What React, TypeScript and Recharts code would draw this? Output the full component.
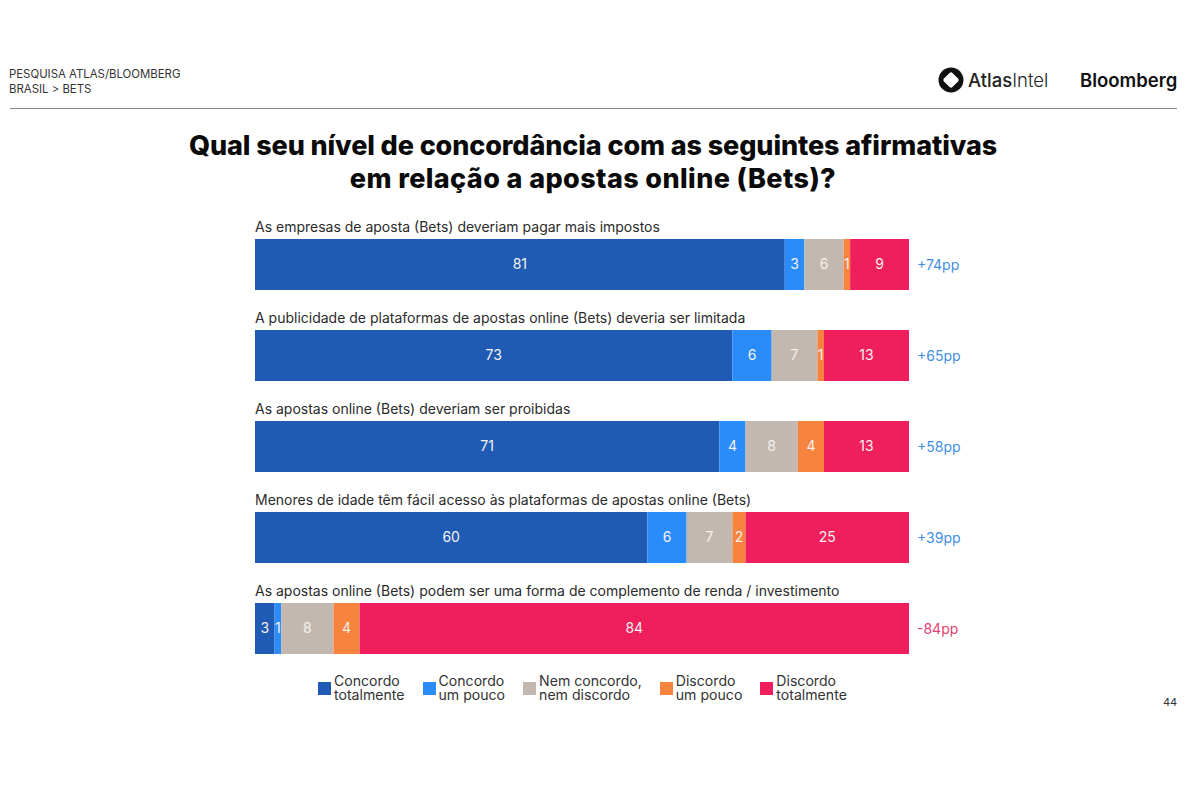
import { BarChart, Bar, XAxis, YAxis, Legend, LabelList } from 'recharts';

const FONT = 'Inter, "Noto Sans", sans-serif';

const questions = [
  'As empresas de aposta (Bets) deveriam pagar mais impostos',
  'A publicidade de plataformas de apostas online (Bets) deveria ser limitada',
  'As apostas online (Bets) deveriam ser proibidas',
  'Menores de idade têm fácil acesso às plataformas de apostas online (Bets)',
  'As apostas online (Bets) podem ser uma forma de complemento de renda / investimento',
];
const concordoTotalmente = [81, 73, 71, 60, 3];
const concordoPouco = [3, 6, 4, 6, 1];
const nemNem = [6, 7, 8, 7, 8];
const discordoPouco = [1, 1, 4, 2, 4];
const discordoTotalmente = [9, 13, 13, 25, 84];
const netLabels = ['+74pp', '+65pp', '+58pp', '+39pp', '-84pp'];

const seriesKeys = ['ct', 'cp', 'nn', 'dp', 'dt'];
const seriesNames = [
  'Concordo\ntotalmente',
  'Concordo\num pouco',
  'Nem concordo,\nnem discordo',
  'Discordo\num pouco',
  'Discordo\ntotalmente',
];
const seriesColors = ['#1f5bb4', '#2a8cfb', '#c3b8af', '#f6843f', '#ef1e5c'];

const rows = questions.map((q, i) => ({
  q,
  ct: concordoTotalmente[i],
  cp: concordoPouco[i],
  nn: nemNem[i],
  dp: discordoPouco[i],
  dt: discordoTotalmente[i],
  net: netLabels[i],
}));

function QuestionTick({ x, y, payload }: any) {
  return (
    <text x={x} y={y - 32.5} fontSize={14} fill="#2b2b2b" fontFamily={FONT}>
      {payload.value}
    </text>
  );
}

function NetLabel({ x, y, width, height, index }: any) {
  const net = netLabels[index];
  return (
    <text
      x={x + width + 8}
      y={y + height / 2 + 5}
      fontSize={14}
      fontFamily={FONT}
      fill={net.startsWith('+') ? '#3f8fe6' : '#e5416f'}
    >
      {net}
    </text>
  );
}

function LegendBox({ payload }: any) {
  return (
    <div style={{ display: 'flex', gap: 18, fontFamily: FONT, fontSize: 14.1, lineHeight: '14px', color: '#333' }}>
      {payload.map((p: any) => (
        <div key={p.value} style={{ display: 'flex', alignItems: 'flex-end', gap: 3 }}>
          <span style={{ width: 13, height: 13, background: p.color, marginBottom: 7, flex: 'none' }} />
          <span style={{ whiteSpace: 'pre', textAlign: 'left' }}>{p.value}</span>
        </div>
      ))}
    </div>
  );
}

export default function App() {
  return (
    <div style={{ position: 'absolute', left: 0, top: 0, width: 1200, height: 800, background: '#fff', overflow: 'hidden', fontFamily: FONT }}>
      <div style={{ position: 'absolute', left: 9, top: 67, fontSize: 11.4, lineHeight: '15px', color: '#333' }}>
        PESQUISA ATLAS/BLOOMBERG
        <br />
        BRASIL {'>'} BETS
      </div>

      <svg style={{ position: 'absolute', left: 938, top: 67 }} width={26} height={26}>
        <circle cx={13} cy={13} r={12.5} fill="#111" />
        <rect x={7} y={7} width={12} height={12} rx={2} fill="#fff" transform="rotate(45 13 13)" />
      </svg>
      <div style={{ position: 'absolute', left: 968, top: 69, fontSize: 18.5, lineHeight: '22px', color: '#222' }}>
        <span style={{ fontWeight: 500 }}>Atlas</span>
        <span style={{ fontWeight: 300 }}>Intel</span>
      </div>
      <div style={{ position: 'absolute', left: 1080, top: 68, fontSize: 18.5, lineHeight: '24px', fontWeight: 600, color: '#111' }}>
        Bloomberg
      </div>
      <div style={{ position: 'absolute', left: 10, top: 108, width: 1167, height: 1, background: '#8a8a8a' }} />

      <div style={{ position: 'absolute', left: 93, top: 129, width: 1000, textAlign: 'center', fontSize: 27, lineHeight: '33px', fontWeight: 800, color: '#0a0a0a', letterSpacing: -0.1 }}>
        Qual seu nível de concordância com as seguintes afirmativas
        <br />
        <span style={{ letterSpacing: 0.4 }}>em relação a apostas online (Bets)?</span>
      </div>

      <div style={{ position: 'absolute', left: 1163, top: 695, fontSize: 11, lineHeight: '14px', color: '#333' }}>44</div>

      <BarChart
        width={1200}
        height={800}
        data={rows}
        layout="vertical"
        barSize={51}
        margin={{ top: 219, right: 291, bottom: 98, left: 0 }}
        style={{ position: 'absolute', left: 0, top: 0 }}
      >
        <XAxis type="number" domain={[0, 100]} hide />
        <YAxis
          type="category"
          dataKey="q"
          width={255}
          axisLine={false}
          tickLine={false}
          interval={0}
          tickMargin={0}
          tickSize={0}
          tick={<QuestionTick />}
        />
        <Legend
          content={<LegendBox />}
          itemSorter={null}
          wrapperStyle={{ position: 'absolute', left: 318, top: 674, width: 'auto', bottom: 'auto' }}
        />
        {seriesKeys.map((k, i) => (
          <Bar
            key={k}
            dataKey={k}
            name={seriesNames[i]}
            stackId="a"
            fill={seriesColors[i]}
            isAnimationActive={false}
          >
            <LabelList dataKey={k} position="center" fill="#f4f1ee" fontSize={14} fontFamily={FONT} />
            {i === seriesKeys.length - 1 && <LabelList dataKey="net" content={<NetLabel />} />}
          </Bar>
        ))}
      </BarChart>
    </div>
  );
}
